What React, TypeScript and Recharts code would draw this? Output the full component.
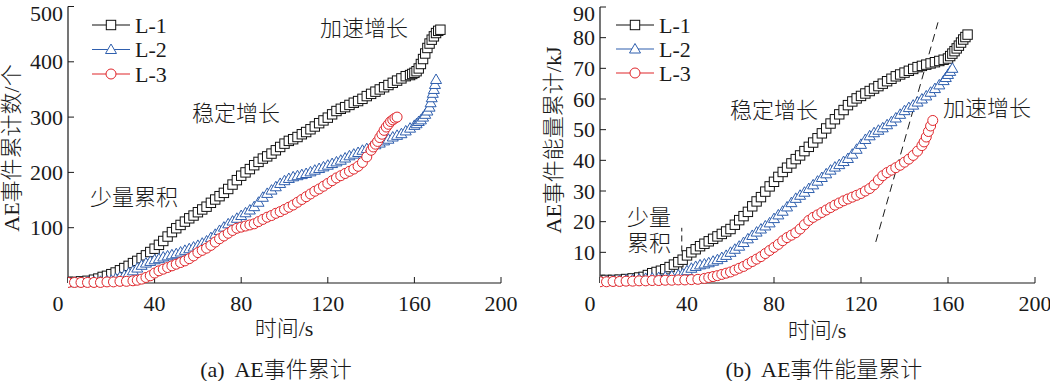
import React from 'react';
import { LineChart, Line, XAxis, YAxis, ReferenceLine } from 'recharts';

const FONT = '"Liberation Serif", "Noto Sans CJK SC", serif';
const INK = '#1a1a1a';
const BLACK = '#111111';
const BLUE = '#2f5fae';
const RED = '#e0262b';

// Panel (a): AE event cumulative count
const timeA1 = [0,3,6,9,12,14,16,18,20,22,24,26,28,30,32,34,36,38,40,42,44,46,48,50,52,54,56,58,60,62,64,66,68,70,72,74,76,78,80,82,84,86,88,90,92,94,96,98,100,102,104,106,108,110,112,114,116,118,120,122,124,126,128,130,132,134,136,138,140,142,144,146,148,150,152,154,156,158,159,160,161,162,163,164,165,166,167,168,169,170,171,172];
const countA1 = [2,2,3,4,6,8,11,13,16,19,23,27,31,36,40,45,50,56,62,69,76,84,92,99,105,111,117,122,128,133,138,145,151,157,163,170,178,186,194,200,206,213,219,225,229,234,240,246,252,257,260,264,269,273,278,283,289,294,299,305,311,315,318,322,326,329,333,338,342,346,350,354,358,362,366,370,374,376,378,380,383,388,396,405,415,425,433,440,446,452,456,458];

const timeA2 = [0,3,6,9,12,15,18,20,22,24,26,28,30,32,34,36,38,40,42,44,46,48,50,52,54,56,58,60,62,64,66,68,70,72,74,76,78,80,82,84,86,88,90,92,94,96,98,100,102,104,106,108,110,112,114,116,118,120,122,124,126,128,130,132,134,136,138,140,142,144,146,148,150,152,154,156,158,160,161,162,163,164,165,166,167,167.5,168,168.5,169,169.5,170];
const countA2 = [1,1,1,2,2,3,4,5,8,11,14,18,22,27,32,36,39,42,44,47,49,51,53,56,59,62,65,68,72,76,82,88,95,101,107,112,117,122,127,132,138,146,155,162,168,174,180,185,189,192,194,196,198,201,204,207,210,213,216,219,222,226,230,233,236,240,243,246,250,253,257,260,264,267,270,275,280,285,288,292,295,300,305,311,318,326,335,343,350,359,368];

const timeA3 = [0,3,6,9,12,15,18,21,24,27,30,32,34,36,38,40,42,44,46,48,50,52,54,56,58,60,62,64,66,68,70,72,74,76,78,80,82,84,86,88,90,92,94,96,98,100,102,104,106,108,110,112,114,116,118,120,122,124,126,128,130,132,134,136,138,140,141,142,143,144,145,146,147,148,149,150,151,152];
const countA3 = [1,1,1,1,1,1,2,2,3,3,4,5,7,10,13,18,22,25,28,31,34,37,40,44,49,55,59,63,68,74,80,85,90,95,99,101,103,105,107,111,115,119,122,126,129,133,137,141,146,151,156,161,166,170,175,180,185,190,194,198,202,206,211,218,228,240,246,251,256,263,269,276,282,287,292,295,298,300];

// Panel (b): AE event cumulative energy (kJ)
const timeB1 = [0,3,6,9,12,15,18,20,22,24,26,28,30,32,34,36,38,40,42,44,46,48,50,52,54,56,58,60,62,64,66,68,70,72,74,76,78,80,82,84,86,88,90,92,94,96,98,100,102,104,106,108,110,112,114,116,118,120,122,124,126,128,130,132,134,136,138,140,142,144,146,148,150,152,154,156,158,160,161,162,163,164,165,166,167,168,169];
const energyB1 = [1,1,1,1.1,1.3,1.5,1.8,2,2.6,3.2,3.6,4,4.5,5.2,6,6.8,7.6,9,10,11,12,12.8,13.6,14.4,15.2,16,16.8,17.6,19,20.5,21.8,23.2,25,26.6,28,29.8,31.5,33,34.6,36.2,37.6,39,40.4,41.6,43,44.4,45.8,47.2,48.8,50.4,52,53.4,55,56.4,58,59.2,60.2,61,61.8,62.6,63.4,64.2,65,65.8,66.6,67.4,68,68.6,69.2,69.8,70.4,70.8,71.2,71.6,72,72.4,72.8,73.2,74,74.8,75.6,76.5,77.4,78.4,79.4,80.2,81];

const timeB2 = [0,3,6,9,12,15,18,21,24,27,30,33,36,38,40,42,44,46,48,50,52,54,56,58,60,62,64,66,68,70,72,74,76,78,80,82,84,86,88,90,92,94,96,98,100,102,104,106,108,110,112,114,116,118,120,122,124,126,128,130,132,134,136,138,140,142,144,146,148,150,152,154,156,158,159,160,161,162];
const energyB2 = [0.5,0.6,0.7,0.8,1,1.1,1.3,1.5,1.6,1.8,2,2.3,2.6,3,4,4.8,5.4,5.9,6.2,6.6,7.1,7.6,8.3,9,10,11,12,13.2,14.4,15.5,16.6,17.6,18.6,19.6,21,22.2,23.4,24.8,26.2,27.6,28.6,29.6,30.8,32,33.2,34.4,35.6,36.8,37.8,38.6,39.6,40.6,42,43.6,45.2,46.8,48,49,49.8,50.6,51.6,52.6,53.8,55,56.2,57.2,58,59,60,61,62.2,63.4,64.6,66,67,68,69,70];

const timeB3 = [0,3,6,9,12,15,18,21,24,27,30,33,36,39,42,45,48,50,52,54,56,58,60,62,64,66,68,70,72,74,76,78,80,82,84,86,88,90,92,94,96,98,100,102,104,106,108,110,112,114,116,118,120,122,124,126,128,130,132,134,136,138,140,142,144,146,148,149,150,151,152,153];
const energyB3 = [0.4,0.4,0.5,0.5,0.6,0.6,0.7,0.7,0.8,0.8,0.9,0.9,1,1,1.1,1.2,1.5,1.8,2.1,2.4,2.8,3.2,3.6,4.2,4.8,5.4,6.2,7,7.8,8.6,9.6,10.6,11.6,12.6,13.8,14.8,15.6,16.4,17.6,19,20.4,21.4,22.2,23,23.8,24.6,25.4,26.1,26.8,27.4,28,28.6,29.2,30,30.8,32,33.6,35,36,36.8,37.6,38.4,39.4,40.4,41.6,43,44.8,46,47.6,49.4,51.2,53];

const seriesNames = ['L-1', 'L-2', 'L-3'];
const seriesColors = [BLACK, BLUE, RED];
const xTicks = [0, 40, 80, 120, 160, 200];
const yTicksA = [100, 200, 300, 400, 500];
const yTicksB = [10, 20, 30, 40, 50, 60, 70, 80, 90];

const zip = (ts: number[], vs: number[]) => ts.map((t, i) => ({ t, v: vs[i] }));

const Square = (p: any) => {
  if (p.cx == null || p.cy == null) return <g key={p.key ?? p.index} />;
  return <rect key={p.key ?? p.index} x={p.cx - 4.7} y={p.cy - 4.7} width={9.4} height={9.4} fill="#fff" stroke={BLACK} strokeWidth={1} />;
};
const Tri = (p: any) => {
  if (p.cx == null || p.cy == null) return <g key={p.key ?? p.index} />;
  const { cx, cy } = p;
  return <polygon key={p.key ?? p.index} points={`${cx},${cy - 5.5} ${cx - 5.5},${cy + 4} ${cx + 5.5},${cy + 4}`} fill="#fff" stroke={BLUE} strokeWidth={1} />;
};
const Circ = (p: any) => {
  if (p.cx == null || p.cy == null) return <g key={p.key ?? p.index} />;
  return <circle key={p.key ?? p.index} cx={p.cx} cy={p.cy} r={5} fill="#fff" stroke={RED} strokeWidth={1} />;
};
const markers = [Square, Tri, Circ];

const XTick = (props: any) => {
  const { x, y, payload } = props;
  const dx = payload.value === 0 ? -10 : 0;
  return (
    <text x={x + dx} y={y + 33.5} textAnchor="middle" fontSize={22} fontFamily={FONT} fill={INK}>
      {payload.value}
    </text>
  );
};
const makeYTick = (top: number) => (props: any) => {
  const { x, y, payload } = props;
  const shift = payload.value === top ? 4 : 0;
  return (
    <text x={x - 11} y={y + 7.5 + shift} textAnchor="end" fontSize={22} fontFamily={FONT} fill={INK}>
      {payload.value}
    </text>
  );
};
const YTickA = makeYTick(500);
const YTickB = makeYTick(90);

const Panel = ({ sets, yMax, yTicks, yTick, left, yAxisWidth, rightMargin, top, children }: any) => (
  <div style={{ position: 'absolute', left, top: 0 }}>
    <LineChart width={520} height={340} margin={{ top, right: rightMargin, bottom: 0, left: 0 }} style={{ overflow: 'visible' }}>
      <XAxis
        type="number"
        dataKey="t"
        domain={[0, 200]}
        ticks={xTicks}
        allowDataOverflow
        height={57}
        tickSize={-6}
        tickMargin={0}
        tick={<XTick />}
        stroke={INK}
        axisLine={{ stroke: INK, strokeWidth: 1.2 }}
        tickLine={{ stroke: INK }}
      />
      <YAxis
        type="number"
        dataKey="v"
        domain={[0, yMax]}
        ticks={yTicks}
        width={yAxisWidth}
        tickSize={-6}
        tickMargin={0}
        tick={yTick}
        stroke={INK}
        axisLine={{ stroke: INK, strokeWidth: 1.2 }}
        tickLine={{ stroke: INK }}
      />
      {children}
      {sets.map((d: any, i: number) => (
        <Line
          key={seriesNames[i]}
          data={d}
          dataKey="v"
          type="linear"
          stroke={seriesColors[i]}
          strokeWidth={1}
          dot={markers[i]}
          activeDot={false}
          isAnimationActive={false}
        />
      ))}
    </LineChart>
  </div>
);

const Legend = ({ x, y0, step }: any) => (
  <g>
    {seriesNames.map((n, i) => {
      const y = y0 + i * step;
      const M = markers[i];
      return (
        <g key={n}>
          <line x1={x} x2={x + 38} y1={y} y2={y} stroke={seriesColors[i]} strokeWidth={1.2} />
          <M cx={x + 19} cy={y} index={i} />
          <text x={x + 43} y={y + 7.5} fontSize={22} fontFamily={FONT} fill={INK}>{n}</text>
        </g>
      );
    })}
  </g>
);

const T = ({ x, y, children, anchor = 'start' }: any) => (
  <text x={x} y={y} fontSize={22} fontFamily={FONT} fontWeight={300} fill={INK} textAnchor={anchor} dominantBaseline="central" style={{ whiteSpace: 'pre' }}>
    {children}
  </text>
);

export default function App() {
  const setsA = [zip(timeA1, countA1), zip(timeA2, countA2), zip(timeA3, countA3)];
  const setsB = [zip(timeB1, energyB1), zip(timeB2, energyB2), zip(timeB3, energyB3)];
  return (
    <div style={{ position: 'absolute', left: 0, top: 0, width: 1050, height: 381, background: '#fff', overflow: 'hidden' }}>
      <Panel sets={setsA} yMax={500} yTicks={yTicksA} yTick={YTickA} left={0} yAxisWidth={68} rightMargin={19} top={6.5} />
      <Panel sets={setsB} yMax={90} yTicks={yTicksB} yTick={YTickB} left={530} yAxisWidth={70} rightMargin={15} top={7}>
        <ReferenceLine segment={[{ x: 37.6, y: 0.5 }, { x: 37.6, y: 18 }]} stroke={INK} strokeDasharray="6 4" ifOverflow="visible" />
        <ReferenceLine segment={[{ x: 126.8, y: 13.4 }, { x: 155.4, y: 85 }]} stroke={INK} strokeDasharray="8 5" ifOverflow="visible" />
      </Panel>
      <svg width={1050} height={381} style={{ position: 'absolute', left: 0, top: 0, pointerEvents: 'none' }}>
        <Legend x={92} y0={25} step={24.5} />
        <Legend x={616} y0={25} step={24} />
        <text transform="translate(11,148) rotate(-90)" textAnchor="middle" dominantBaseline="central" fontSize={22} fontFamily={FONT} fontWeight={300} fill={INK}>AE事件累计数/个</text>
        <text transform="translate(553,140) rotate(-90)" textAnchor="middle" dominantBaseline="central" fontSize={22} fontFamily={FONT} fontWeight={300} fill={INK}>AE事件能量累计/kJ</text>
        <T x={284} y={328} anchor="middle">时间/s</T>
        <T x={817} y={330} anchor="middle">时间/s</T>
        <T x={276} y={369} anchor="middle">(a)  AE事件累计</T>
        <T x={824} y={369} anchor="middle">(b)  AE事件能量累计</T>
        <T x={90} y={197}>少量累积</T>
        <T x={192} y={113}>稳定增长</T>
        <T x={320} y={28}>加速增长</T>
        <T x={627} y={217}>少量</T>
        <T x={627} y={243}>累积</T>
        <T x={730} y={110}>稳定增长</T>
        <T x={943} y={108}>加速增长</T>
      </svg>
    </div>
  );
}
